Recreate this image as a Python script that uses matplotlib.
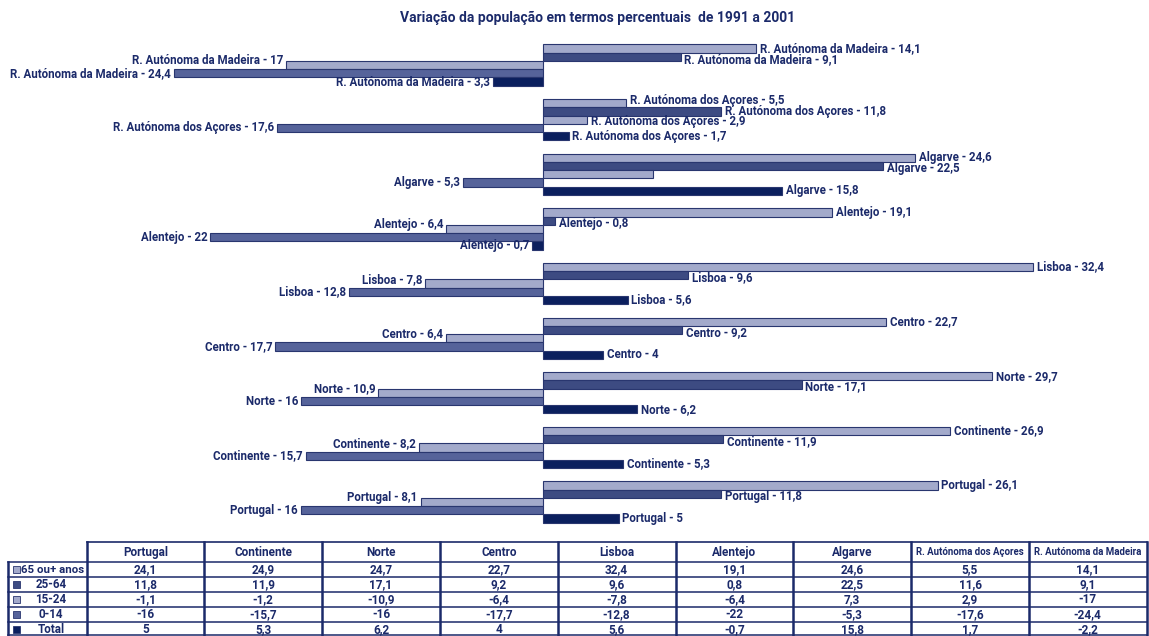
import matplotlib.pyplot as plt
from matplotlib.patches import Rectangle

plt.rcParams['font.family'] = ['Roboto', 'DejaVu Sans']
plt.rcParams['font.weight'] = 'bold'

regions = ["Portugal", "Continente", "Norte", "Centro", "Lisboa",
           "Alentejo", "Algarve", "R. Autónoma dos Açores",
           "R. Autónoma da Madeira"]
age_groups = ["65 ou+ anos", "25-64", "15-24", "0-14", "Total"]

# bar lengths (the bar labels print these)
bars_65 = [26.1, 26.9, 29.7, 22.7, 32.4, 19.1, 24.6, 5.5, 14.1]
bars_25_64 = [11.8, 11.9, 17.1, 9.2, 9.6, 0.8, 22.5, 11.8, 9.1]
bars_15_24 = [-8.1, -8.2, -10.9, -6.4, -7.8, -6.4, 7.3, 2.9, -17]
bars_0_14 = [-16, -15.7, -16, -17.7, -12.8, -22, -5.3, -17.6, -24.4]
bars_total = [5, 5.3, 6.2, 4, 5.6, -0.7, 15.8, 1.7, -3.3]

# figures printed in the table below the bars
table_65 = [24.1, 24.9, 24.7, 22.7, 32.4, 19.1, 24.6, 5.5, 14.1]
table_25_64 = [11.8, 11.9, 17.1, 9.2, 9.6, 0.8, 22.5, 11.6, 9.1]
table_15_24 = [-1.1, -1.2, -10.9, -6.4, -7.8, -6.4, 7.3, 2.9, -17]
table_0_14 = [-16, -15.7, -16, -17.7, -12.8, -22, -5.3, -17.6, -24.4]
table_total = [5, 5.3, 6.2, 4, 5.6, -0.7, 15.8, 1.7, -2.2]

bar_series = [bars_65, bars_25_64, bars_15_24, bars_0_14, bars_total]
table_rows = [table_65, table_25_64, table_15_24, table_0_14, table_total]

# no label on this bar
unlabelled = {("Algarve", "15-24")}

colors = ['#a3aacb', '#3d4b82', '#a3aacb', '#56639a', '#0b1f5e']
edge = '#29366f'
ink = '#1b2a6a'


def pt(v):
    return f"{v:g}".replace('.', ',')


W, H = 1149, 636
fig = plt.figure(figsize=(W / 100, H / 100), dpi=100)

# bars: zero at x=543px, 15.12 px per unit; bars 8.25 px tall
gap = 6.62
ax = fig.add_axes([0, (H - 530) / H, 1, 500 / H])
ax.set_xlim(-543 / 15.12, (W - 543) / 15.12)
ax.set_ylim(-5.39, 55.21)
ax.axis('off')

for j, vals in enumerate(bar_series):
    ys = [i * gap - j for i in range(len(regions))]
    ax.barh(ys, vals, height=1.0, color=colors[j], edgecolor=edge,
            linewidth=0.8, zorder=2 + j * 0.01)
    for i, (region, y, v) in enumerate(zip(regions, ys, vals)):
        if (region, age_groups[j]) in unlabelled:
            continue
        txt = f"{region} - {pt(abs(v))}"
        # three labels stacked on the right when the 15-24 bar is positive
        crowded = bars_15_24[i] > 0 and (region, "15-24") not in unlabelled
        ty = y
        if j == 0 and crowded:
            ty += 0.35
        if j == 1 and not crowded:
            ty -= 0.3
        if j == 2:
            ty += 0.5 if v < 0 else -0.25
        if v >= 0:
            ax.text(v + 0.25, ty, txt, ha='left', va='center',
                    fontsize=8.3, color=ink, fontweight='bold')
        else:
            ax.text(v - 0.2, ty, txt, ha='right', va='center',
                    fontsize=8.3, color=ink, fontweight='bold')

fig.text(598 / W, 1 - 18 / H,
         "Variação da população em termos percentuais  de 1991 a 2001",
         ha='center', va='center', fontsize=10, color=ink, fontweight='bold')

# table drawn in pixel coordinates
tab = fig.add_axes([0, 0, 1, 1], zorder=-1)
tab.set_xlim(0, W)
tab.set_ylim(H, 0)
tab.axis('off')

col_x = [86.5 + k * 117.8 for k in range(len(regions) + 1)]
head_top, head_bot = 541.7, 561.7
row_h = 15.0
row_y = [head_bot + r * row_h for r in range(len(age_groups) + 1)]
left = 7.5

tab.plot([col_x[0], col_x[-1]], [head_top, head_top], color=ink, lw=1.2)
for y in row_y:
    yy = min(y, H - 0.8)
    tab.plot([left, col_x[-1]], [yy, yy], color=ink, lw=1.1)
for x in col_x:
    tab.plot([x, x], [head_top, H], color=ink, lw=1.8)
tab.plot([left, left], [head_bot, H], color=ink, lw=1.8)

for k, name in enumerate(regions):
    cx = (col_x[k] + col_x[k + 1]) / 2
    fs = 6.9 if name.startswith("R.") else 8.5
    tab.text(cx, (head_top + head_bot) / 2 + 0.5, name, ha='center',
             va='center', fontsize=fs, color=ink, fontweight='bold')

for r, (label, vals) in enumerate(zip(age_groups, table_rows)):
    cy = row_y[r] + row_h / 2
    tab.add_patch(Rectangle((12.5, cy - 3.5), 7, 7, facecolor=colors[r],
                            edgecolor=edge, lw=0.6))
    if r == 0:
        tab.text(21, cy + 0.5, label, ha='left', va='center', fontsize=8.2,
                 color=ink, fontweight='bold')
    else:
        tab.text(51, cy + 0.5, label, ha='center', va='center', fontsize=8.4,
                 color=ink, fontweight='bold')
    for k, v in enumerate(vals):
        cx = (col_x[k] + col_x[k + 1]) / 2
        tab.text(cx, cy + 0.5, pt(v), ha='center', va='center', fontsize=8.5,
                 color=ink, fontweight='bold')

fig.savefig('out.png', dpi=100, facecolor='white')
